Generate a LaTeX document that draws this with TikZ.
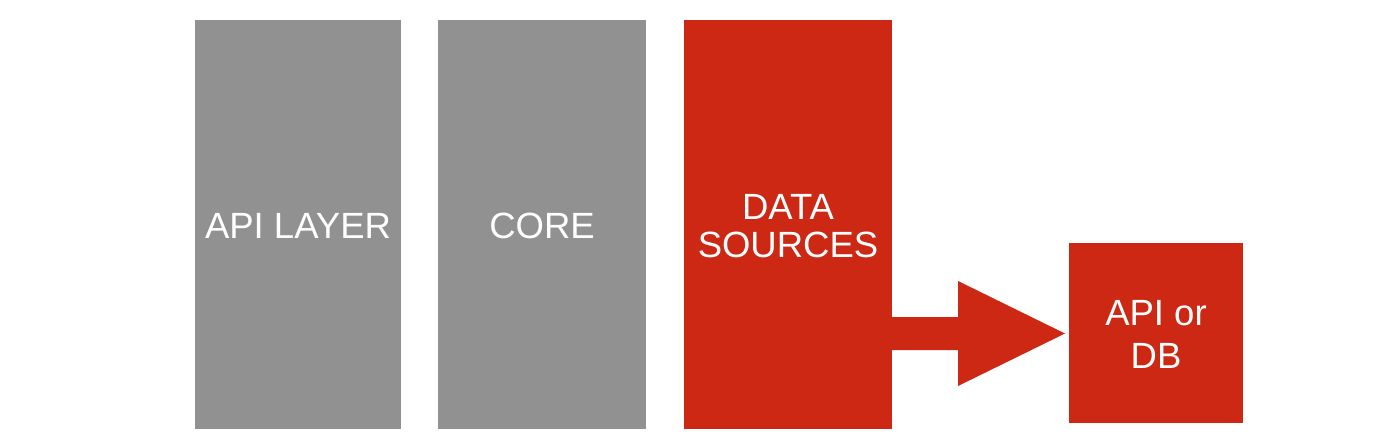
\documentclass[tikz,border=0pt]{standalone}
\usepackage{fontspec}
\setmainfont{Liberation Sans}
\definecolor{boxgray}{HTML}{919191}
\definecolor{boxred}{HTML}{CC2814}
\begin{document}
\begin{tikzpicture}[x=1pt,y=-1pt,
  layer/.style={fill=#1, draw=none, text=white, inner sep=0pt, align=center,
    font=\fontsize{36.5}{38.5}\selectfont},
  label text/.style={text=white, inner sep=0pt, align=center, yshift=-1.5pt,
    font=\fontsize{36.5}{38.5}\selectfont},
]
\useasboundingbox (0,0) rectangle (1400,445);
\fill[white] (0,0) rectangle (1400,445);
\node[layer=boxgray, minimum width=206, minimum height=409] (api) at (298,224.5) {};
\node[layer=boxgray, minimum width=208, minimum height=409] (core) at (542,224.5) {};
\node[layer=boxred, minimum width=208, minimum height=409] (ds) at (788,224.5) {};
\node[layer=boxred, minimum width=174, minimum height=180] (db) at (1156,333) {};
\node[label text] (apit) at (api.center) {API LAYER};
\node[label text] (coret) at (core.center) {CORE};
\node[label text] (dst) at (ds.center) {DATA\\SOURCES};
\node[label text, font=\fontsize{36.5}{43.5}\selectfont] (dbt) at (db.center) {API or\\DB};
\fill[boxred] (ds.east |- 0,317) -- (958,317) -- (958,281) -- (1065,333.5)
  -- (958,386) -- (958,350) -- (ds.east |- 0,350) -- cycle;
\end{tikzpicture}
\end{document}
